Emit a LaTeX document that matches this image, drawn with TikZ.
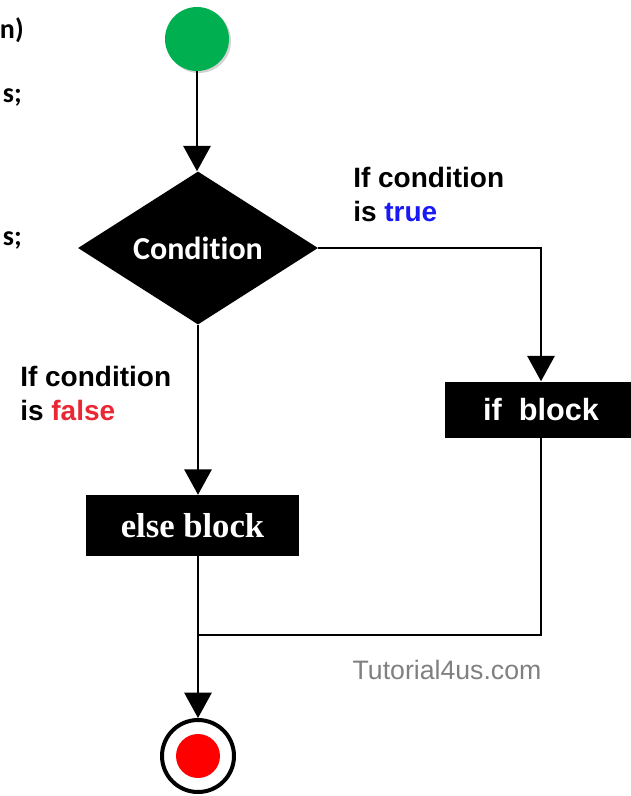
\documentclass[tikz,border=0pt]{standalone}
\usepackage{fontspec}
\setmainfont{Liberation Sans}
\newfontfamily\calibriFont[Ligatures=NoCommon]{Carlito}
\newfontfamily\cambriaFont{Liberation Serif}
\usetikzlibrary{shapes.geometric,arrows.meta,shadows}
\definecolor{startGreen}{RGB}{0,176,80}
\definecolor{trueBlue}{RGB}{25,25,245}
\definecolor{falseRed}{RGB}{232,40,52}
\definecolor{stopRed}{RGB}{255,0,0}
\def\labelSize{\fontsize{21pt}{25.5pt}\selectfont}
\def\tipLength{19pt}
\def\tipWidth{20.5pt}
\tikzset{
  flowLine/.style={line width=1.3pt},
  flowArrow/.style={
    flowLine,
    -{Triangle[length=\tipLength,width=\tipWidth]}
  },
  startNode/.style={
    circle,
    fill=startGreen,
    inner sep=0pt,
    minimum size=48pt,
    drop shadow={shadow xshift=1.5pt,shadow yshift=-1.5pt,opacity=0.35}
  },
  endNode/.style={
    circle,
    draw,
    line width=3pt,
    inner sep=0pt,
    minimum size=54pt,
    path picture={\fill[stopRed] (path picture bounding box.center) circle[radius=16.5pt];}
  },
  decisionNode/.style={
    diamond,
    fill=black,
    text=white,
    inner sep=0pt,
    minimum width=180pt,
    minimum height=114.75pt,
    font=\calibriFont\bfseries\fontsize{24pt}{28pt}\selectfont
  },
  blockNode/.style={rectangle,fill=black,text=white,inner sep=0pt},
  caseLabel/.style={
    align=left,
    inner sep=0pt,
    anchor=north west,
    font=\bfseries\labelSize
  },
  codeText/.style={
    inner sep=0pt,
    anchor=base east,
    font=\calibriFont\bfseries\fontsize{21pt}{25pt}\selectfont
  }
}

\begin{document}
\begin{tikzpicture}[x=0.75pt,y=-0.75pt]
    \useasboundingbox (0,0) rectangle (631,796);

    \node[codeText] (codeA) at (24,38) {n)};
    \node[codeText] (codeB) at (22,102) {s;};
    \node[codeText] (codeC) at (22,245) {s;};

    \node[startNode] (start) at (197,39) {};
    \node[decisionNode] (cond) at (198,248) {Condition};
    \node[blockNode,minimum width=144pt,minimum height=42pt,
      font=\bfseries\fontsize{23pt}{27pt}\selectfont] (ifblk) at (541,409.5) {if\ \ block};
    \node[blockNode,minimum width=159.75pt,minimum height=45.75pt,
      font=\cambriaFont\bfseries\fontsize{26pt}{30pt}\selectfont] (elseblk) at (192.5,525.5) {else block};
    \coordinate (join) at (198,635);
    \node[endNode] (stop) at (198,756) {};

    \node[caseLabel] (trueLabel) at (353,167) {If condition\\is \textcolor{trueBlue}{true}};
    \node[caseLabel] (falseLabel) at (20,366) {If condition\\is \textcolor{falseRed}{false}};
    \node[inner sep=0pt,text=gray,font=\fontsize{20pt}{24pt}\selectfont] (site) at (447,670) {Tutorial4us.com};

    \draw[flowArrow] (start) -- (start |- cond.north);
    \draw[flowArrow] (cond.east) -| (ifblk.north);
    \draw[flowArrow] (cond.south) -- (cond.south |- elseblk.north);
    \draw[flowLine] (cond.south |- elseblk.south) -- (join);
    \draw[flowLine] (ifblk.south) |- (join);
    \draw[flowArrow] (join) -- (stop);
  \end{tikzpicture}
\end{document}
